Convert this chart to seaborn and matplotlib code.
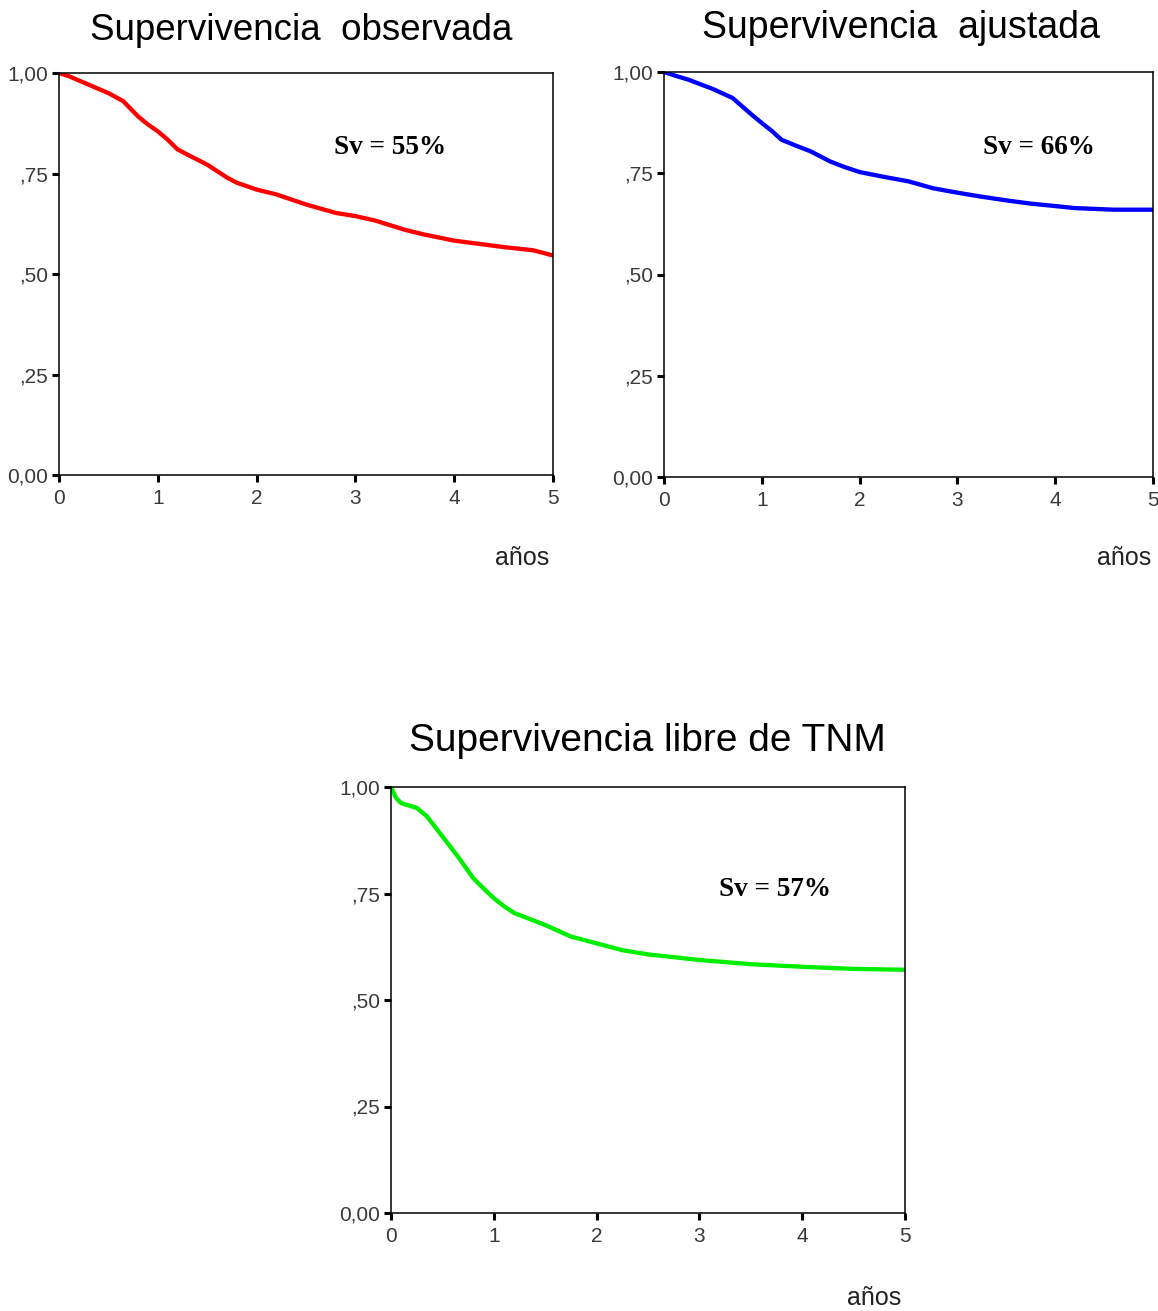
import matplotlib
matplotlib.use("Agg")
import matplotlib.pyplot as plt
import seaborn as sns
import pandas as pd

# ---- data ----
t_obs = [0, 0.1, 0.3, 0.5, 0.65, 0.8, 0.9, 1.0, 1.1, 1.2, 1.3, 1.5, 1.7, 1.8, 2.0, 2.2, 2.5, 2.8, 3.0, 3.2, 3.5, 3.7, 4.0, 4.5, 4.8, 5.0]
s_obs = [1.0, 0.992, 0.971, 0.95, 0.93, 0.892, 0.872, 0.855, 0.834, 0.81, 0.797, 0.772, 0.74, 0.727, 0.71, 0.698, 0.673, 0.652, 0.644, 0.633, 0.61, 0.598, 0.583, 0.567, 0.559, 0.546]

t_adj = [0, 0.1, 0.25, 0.5, 0.7, 0.9, 1.0, 1.1, 1.2, 1.35, 1.5, 1.7, 1.85, 2.0, 2.25, 2.5, 2.75, 3.0, 3.25, 3.5, 3.75, 4.0, 4.2, 4.6, 5.0]
s_adj = [1.0, 0.992, 0.981, 0.958, 0.936, 0.894, 0.874, 0.855, 0.833, 0.818, 0.804, 0.779, 0.765, 0.753, 0.741, 0.73, 0.713, 0.702, 0.692, 0.683, 0.675, 0.669, 0.664, 0.66, 0.66]

t_tnm = [0, 0.05, 0.1, 0.25, 0.35, 0.5, 0.65, 0.8, 0.9, 1.0, 1.1, 1.2, 1.35, 1.5, 1.75, 2.0, 2.25, 2.5, 3.0, 3.5, 4.0, 4.5, 5.0]
s_tnm = [1.0, 0.974, 0.962, 0.951, 0.931, 0.884, 0.837, 0.786, 0.762, 0.739, 0.72, 0.704, 0.69, 0.676, 0.649, 0.633, 0.617, 0.607, 0.594, 0.584, 0.578, 0.573, 0.571]

titles = ["Supervivencia  observada", "Supervivencia  ajustada", "Supervivencia libre de TNM"]
labels_sv = ["Sv = 55%", "Sv = 66%", "Sv = 57%"]
xticks = [0, 1, 2, 3, 4, 5]
yticks = [0, 0.25, 0.5, 0.75, 1.0]
yticklabels = ["0,00", ",25", ",50", ",75", "1,00"]
xlabel = "años"
colors = ["#ff0000", "#0000ff", "#00ee00"]

sns.set_theme(style="white")
plt.rcParams['font.family'] = ['Liberation Sans', 'DejaVu Sans']

W, H = 1158, 1311
fig = plt.figure(figsize=(W / 100, H / 100), dpi=100)

# axes boxes in pixels: left, top, right, bottom
boxes = [(59, 73, 553, 475), (664, 72, 1153, 477), (391, 787, 905, 1213)]
title_pos = [(301, 30), (901, 28), (647, 741)]
title_size = [26.5, 27, 28]
sv_pos = [(390, 147), (1039, 147), (775, 890)]
anos_pos = [(522, 558), (1124, 558), (874, 1298)]

series = [(t_obs, s_obs), (t_adj, s_adj), (t_tnm, s_tnm)]

for i, (box, (tt, ss)) in enumerate(zip(boxes, series)):
    l, t, r, b = box
    ax = fig.add_axes([l / W, 1 - b / H, (r - l) / W, (b - t) / H])
    df = pd.DataFrame({"t": tt, "s": ss})
    sns.lineplot(data=df, x="t", y="s", ax=ax, color=colors[i], linewidth=3.1,
                 estimator=None, solid_joinstyle="round")
    ax.set_xlim(0, 5)
    ax.set_ylim(0, 1)
    ax.set_xticks(xticks)
    ax.set_xticklabels([str(x) for x in xticks])
    ax.set_yticks(yticks)
    ax.set_yticklabels(yticklabels)
    ax.set_xlabel("")
    ax.set_ylabel("")
    ax.tick_params(axis="both", which="both", direction="out", length=5, width=2.2,
                   color="black", labelsize=15, labelcolor="#3a3a3a",
                   bottom=True, left=True, top=False, right=False)
    ax.tick_params(axis="x", pad=5)
    ax.tick_params(axis="y", pad=3)
    for sp in ax.spines.values():
        sp.set_visible(True)
        sp.set_color("black")
        sp.set_linewidth(1.1)
    ax.set_facecolor("white")

    tx, ty = title_pos[i]
    fig.text(tx / W, 1 - ty / H, titles[i], ha="center", va="center", fontsize=title_size[i], color="black")
    sx, sy = sv_pos[i]
    fig.text(sx / W, 1 - sy / H, labels_sv[i], ha="center", va="center", fontsize=19.5,
             fontweight="bold", family=["Liberation Serif", "DejaVu Serif"], color="black")
    axx, axy = anos_pos[i]
    fig.text(axx / W, 1 - axy / H, xlabel, ha="center", va="center", fontsize=18, color="#222222")

fig.savefig("out.png", dpi=100, facecolor="white")
